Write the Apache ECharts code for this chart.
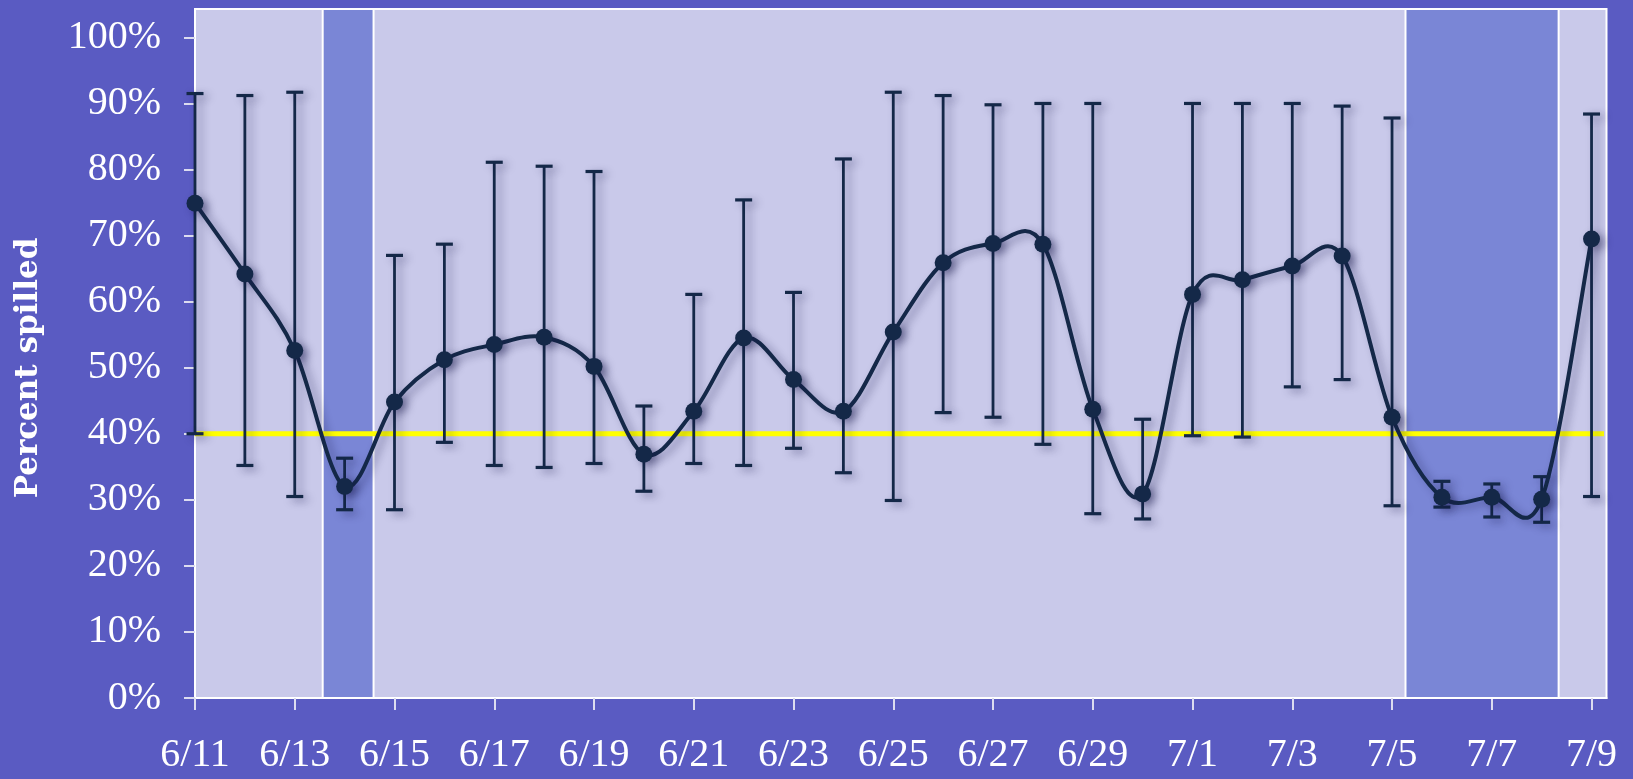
<!DOCTYPE html>
<html>
<head>
<meta charset="utf-8">
<script src="https://cdn.jsdelivr.net/npm/echarts@6/dist/echarts.min.js"></script>
<style>
html,body{margin:0;padding:0;background:#5a5bc2;}
#chart{width:1633px;height:779px;}
</style>
</head>
<body>
<div id="chart"></div>
<script>
const days = ['6/11','6/12','6/13','6/14','6/15','6/16','6/17','6/18','6/19','6/20',
  '6/21','6/22','6/23','6/24','6/25','6/26','6/27','6/28','6/29','6/30',
  '7/1','7/2','7/3','7/4','7/5','7/6','7/7','7/8','7/9'];
const tickDays = [0,2,4,6,8,10,12,14,16,18,20,22,24,26,28];
const yTicks = [0,10,20,30,40,50,60,70,80,90,100];
const pct = [74.9,64.2,52.6,32.0,44.8,51.2,53.5,54.6,50.2,36.9,
  43.4,54.5,48.2,43.4,55.4,65.9,68.8,68.7,43.7,30.9,
  61.1,63.3,65.4,66.9,42.5,30.4,30.4,30.1,69.5];
const errHigh = [91.5,91.2,91.7,36.3,67.0,68.7,81.1,80.5,79.7,44.2,
  61.1,75.4,61.4,81.6,91.7,91.2,89.8,90.0,90.0,42.2,
  90.0,90.0,90.0,89.6,87.8,32.8,32.4,33.5,88.4];
const errLow = [40.0,35.2,30.5,28.5,28.5,38.7,35.2,34.9,35.5,31.3,
  35.5,35.2,37.8,34.1,29.9,43.2,42.5,38.4,27.9,27.1,
  39.7,39.5,47.1,48.2,29.1,28.9,27.4,26.6,30.5];
const threshold = 40;
const weekendBands = [[2.56,3.58],[24.27,27.34]];

const chart = echarts.init(document.getElementById('chart'));
const navy = '#142848';
const shadow = {shadowBlur:9, shadowColor:'rgba(20,20,70,0.4)', shadowOffsetX:5, shadowOffsetY:3};

function curvePath(api){
  const P = pct.map((v,i)=>api.coord([i,v]));
  const n = P.length;
  let d = 'M'+P[0][0]+' '+P[0][1];
  for(let i=0;i<n-1;i++){
    const p0 = P[Math.max(i-1,0)], p1 = P[i], p2 = P[i+1], p3 = P[Math.min(i+2,n-1)];
    const c1x = p1[0]+(p2[0]-p0[0])/6, c1y = p1[1]+(p2[1]-p0[1])/6;
    const c2x = p2[0]-(p3[0]-p1[0])/6, c2y = p2[1]-(p3[1]-p1[1])/6;
    d += ' C'+c1x+' '+c1y+' '+c2x+' '+c2y+' '+p2[0]+' '+p2[1];
  }
  return d;
}

chart.setOption({
  backgroundColor:'#5a5bc2',
  animation:false,
  grid:{left:195,right:26.5,top:9,bottom:81,show:true,backgroundColor:'#c9c9ea',borderColor:'#ffffff',borderWidth:2},
  xAxis:{
    type:'value',min:0,max:28.3,
    splitLine:{show:false},
    axisLine:{show:true,lineStyle:{color:'#ffffff',width:2}},
    axisTick:{show:true,length:12,lineStyle:{color:'#dcdcf0',width:2},customValues:tickDays},
    axisLabel:{customValues:tickDays,formatter:v=>days[Math.round(v)],color:'#ffffff',
      fontFamily:'Liberation Serif',fontSize:40,margin:37}
  },
  yAxis:{
    type:'value',min:0,max:104.3,
    splitLine:{show:false},
    axisLine:{show:true,lineStyle:{color:'#ffffff',width:2}},
    axisTick:{show:true,inside:false,length:11,lineStyle:{color:'#dcdcf0',width:2},customValues:yTicks},
    axisLabel:{customValues:yTicks,formatter:v=>v+'%',color:'#ffffff',
      fontFamily:'Liberation Serif',fontSize:40,margin:34}
  },
  graphic:[{
    type:'text',x:29,y:368,rotation:Math.PI/2,
    style:{text:'Percent spilled',fill:'#ffffff',font:'bold 31px "DejaVu Serif"',align:'center',verticalAlign:'middle'}
  }],
  series:[
    {
      type:'line',data:[],silent:true,
      markArea:{silent:true,itemStyle:{color:'#7a86d6',borderColor:'#ffffff',borderWidth:2},
        data:weekendBands.map(b=>[{xAxis:b[0]},{xAxis:b[1]}])},
      z:1
    },
    {
      type:'line',data:[[0,threshold],[28.25,threshold]],symbol:'none',silent:true,
      lineStyle:{color:'#ffff00',width:5},z:2
    },
    {
      type:'custom',z:3,silent:true,
      data:pct.map((v,i)=>[i,errLow[i],errHigh[i]]),
      renderItem:function(params,api){
        const x=api.value(0);
        const lo=api.coord([x,api.value(1)]);
        const hi=api.coord([x,api.value(2)]);
        const hw=8.5;
        const st={stroke:navy,lineWidth:2.8,...shadow};
        return {type:'group',children:[
          {type:'line',shape:{x1:lo[0],y1:lo[1],x2:hi[0],y2:hi[1]},style:st},
          {type:'line',shape:{x1:lo[0]-hw,y1:lo[1],x2:lo[0]+hw,y2:lo[1]},style:{...st,lineWidth:3.2}},
          {type:'line',shape:{x1:hi[0]-hw,y1:hi[1],x2:hi[0]+hw,y2:hi[1]},style:{...st,lineWidth:3.2}}
        ]};
      }
    },
    {
      type:'custom',z:4,silent:true,
      data:[[0,pct[0]]],
      renderItem:function(params,api){
        return {type:'path',shape:{pathData:curvePath(api)},
          style:{fill:null,stroke:navy,lineWidth:4,lineJoin:'round',...shadow}};
      }
    },
    {
      type:'scatter',z:5,silent:true,
      data:pct.map((v,i)=>[i,v]),
      symbol:'circle',symbolSize:17,
      itemStyle:{color:navy,opacity:1,...shadow}
    }
  ]
});
</script>
</body>
</html>
